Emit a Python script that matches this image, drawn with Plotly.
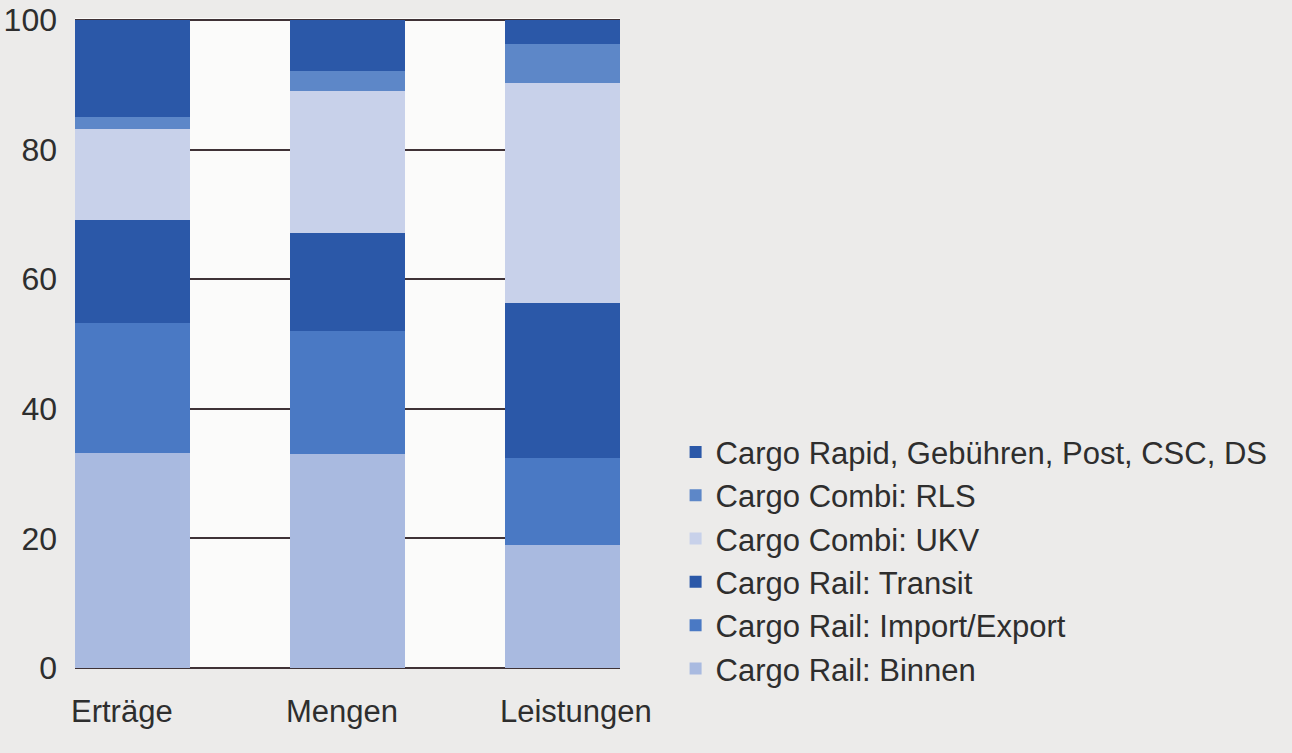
import plotly.graph_objects as go

categories = ["Erträge", "Mengen", "Leistungen"]
series_names = [
    "Cargo Rail: Binnen",
    "Cargo Rail: Import/Export",
    "Cargo Rail: Transit",
    "Cargo Combi: UKV",
    "Cargo Combi: RLS",
    "Cargo Rapid, Gebühren, Post, CSC, DS",
]
binnen = [33.2, 33.0, 19.0]
import_export = [20.0, 19.0, 13.4]
transit = [16.0, 15.1, 23.9]
ukv = [14.0, 21.9, 33.9]
rls = [1.8, 3.1, 6.1]
rapid = [15.0, 7.9, 3.7]
series_values = [binnen, import_export, transit, ukv, rls, rapid]
colors = ["#a9bae0", "#4a79c4", "#2b58a8", "#c8d1ea", "#5d87c8", "#2b58a8"]
y_ticks = [0, 20, 40, 60, 80, 100]

font_family = "Liberation Sans, Arial, sans-serif"
text_color = "#2e2e2e"
bar_width = 0.536
fsize = 31

fig = go.Figure()
n = len(series_names)
for i, (name, vals, col) in enumerate(zip(series_names, series_values, colors)):
    fig.add_trace(go.Bar(
        x=categories, y=vals, name=name, marker_color=col,
        marker_line_width=0, width=bar_width, legendrank=n - i,
    ))

for cat in categories:
    fig.add_annotation(
        x=cat, y=0, xref="x", yref="y", text=cat, showarrow=False,
        xanchor="left", yanchor="top", xshift=-64, yshift=-24,
        font=dict(size=31, color=text_color, family=font_family),
    )

fig.update_layout(
    barmode="stack",
    width=1292, height=753,
    margin=dict(l=75, r=672, t=18, b=85),
    paper_bgcolor="#ecebea",
    plot_bgcolor="#fbfbfa",
    font=dict(family=font_family, color=text_color, size=fsize),
    showlegend=True,
    legend=dict(
        traceorder="normal", x=1.102, xanchor="left", y=-0.042, yanchor="bottom",
        bgcolor="rgba(0,0,0,0)", font=dict(size=fsize, color=text_color),
        itemwidth=30,
    ),
    xaxis=dict(
        range=[-bar_width / 2, 2 + bar_width / 2], showticklabels=False,
        showgrid=False, zeroline=False, showline=False, ticks="", automargin=False,
    ),
    yaxis=dict(
        range=[0, 100.3], tickvals=y_ticks, ticktext=[str(v) for v in y_ticks],
        showgrid=True, gridcolor="#3f3236", gridwidth=1.6,
        zeroline=True, zerolinecolor="#3f3236", zerolinewidth=2,
        showline=False, ticks="", ticklabelstandoff=17, automargin=False,
        tickfont=dict(size=32, color=text_color),
    ),
)

fig.write_html("out.html", config={"displayModeBar": False},
               post_script="document.body.style.margin='0';")
